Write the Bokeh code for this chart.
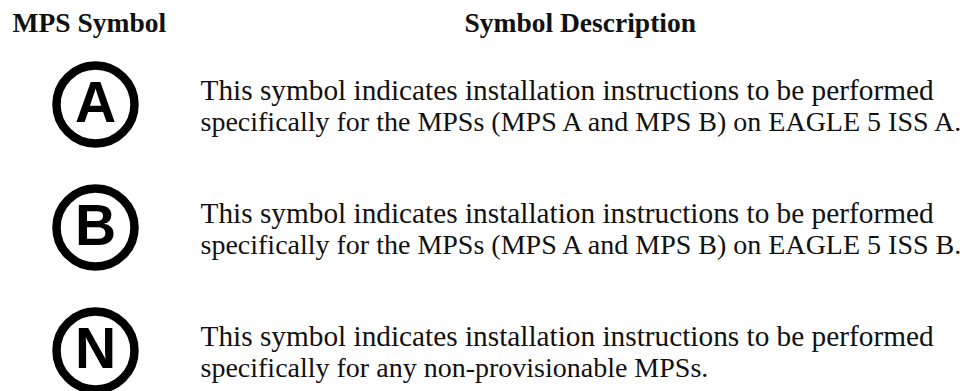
from bokeh.plotting import figure
from bokeh.models import Range1d
from bokeh.core.properties import value
from bokeh.embed import file_html
from bokeh.resources import INLINE

headers = ["MPS Symbol", "Symbol Description"]
symbols = ["A", "B", "N"]
line_one = [
    "This symbol indicates installation instructions to be performed",
    "This symbol indicates installation instructions to be performed",
    "This symbol indicates installation instructions to be performed",
]
line_two = [
    "specifically for the MPSs (MPS A and MPS B) on EAGLE 5 ISS A.",
    "specifically for the MPSs (MPS A and MPS B) on EAGLE 5 ISS B.",
    "specifically for any non-provisionable MPSs.",
]

SERIF = value("Liberation Serif")
SANS = value("Liberation Sans")
CY = [104, 227, 350]
LY = [89, 212.5, 335.5]

p = figure(width=965, height=391, output_backend="svg", toolbar_location=None,
           x_range=Range1d(0, 965), y_range=Range1d(391, 0), min_border=0,
           outline_line_color=None, border_fill_color="white", background_fill_color="white")
p.xaxis.visible = False
p.yaxis.visible = False
p.grid.visible = False

p.text(x=[12, 464], y=[22, 22], text=headers, text_font=SERIF, text_font_size="27.5px",
       text_font_style="bold", text_color="#111111", text_baseline="alphabetic")
p.scatter(x=[95] * 3, y=CY, size=78, marker="circle", fill_color=None,
          line_color="black", line_width=8.5)
p.text(x=[95] * 3, y=[c - 3 for c in CY], text=symbols, text_font=SANS, text_font_size="57px",
       text_font_style="bold", text_color="black", text_align="center", text_baseline="alphabetic")
p.text(x=[200] * 3, y=LY, text=line_one, text_font=SERIF, text_font_size="29.3px",
       text_color="#111111", text_baseline="alphabetic")
p.text(x=[200] * 3, y=[c + 31.5 for c in LY], text=line_two, text_font=SERIF, text_font_size="28px",
       text_color="#111111", text_baseline="alphabetic")

open("out.html", "w").write(file_html(p, INLINE))
